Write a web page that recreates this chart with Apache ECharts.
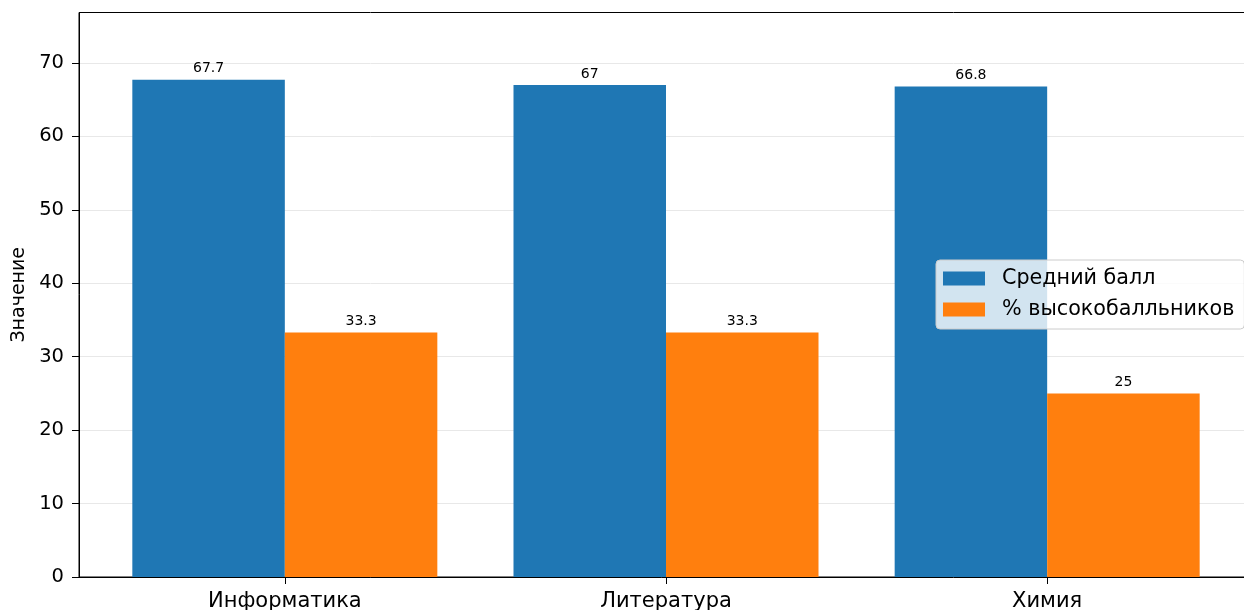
<!DOCTYPE html>
<html>
<head>
<meta charset="utf-8">
<script src="https://cdn.jsdelivr.net/npm/echarts@6/dist/echarts.min.js"></script>
<style>
html,body{margin:0;padding:0;background:#fff;}
#chart{width:1244px;height:610px;}
</style>
</head>
<body>
<div id="chart"></div>
<script>
var categories = ['Информатика', 'Литература', 'Химия'];
var seriesNames = ['Средний балл', '% высокобалльников'];
var avgScore = [67.7, 67, 66.8];
var highScorers = [33.3, 33.3, 25];
var yTicks = [0, 10, 20, 30, 40, 50, 60, 70];

var positions = categories.map(function (c, i) { return i; });
function toPoints(vals) { return vals.map(function (v, i) { return [positions[i], v]; }); }

var FONT = 'DejaVu Sans';
var chart = echarts.init(document.getElementById('chart'));
chart.setOption({
  animation: false,
  textStyle: { fontFamily: FONT },
  grid: {
    left: 79, top: 12.5, width: 1174, bottom: 33,
    show: true, borderColor: '#000', borderWidth: 1, backgroundColor: 'transparent',
    containLabel: false,
    outerBoundsMode: 'none'
  },
  legend: {
    orient: 'vertical',
    left: 936, top: 260,
    padding: [8, 10, 9, 7],
    itemGap: 10,
    itemWidth: 42, itemHeight: 14,
    icon: 'rect',
    backgroundColor: 'rgba(255,255,255,0.8)',
    borderColor: '#cccccc', borderWidth: 1, borderRadius: 4,
    textStyle: { fontFamily: FONT, fontSize: 20.7, color: '#000', padding: [0, 0, 0, 12] },
    data: seriesNames
  },
  xAxis: {
    type: 'value',
    min: -0.54, max: 2.54,
    axisLine: { show: true, onZero: false, lineStyle: { color: '#000', width: 1 } },
    axisTick: { show: true, length: 7, customValues: positions, lineStyle: { color: '#000' } },
    axisLabel: {
      customValues: positions,
      margin: 14, fontSize: 21, color: '#000', fontFamily: FONT,
      formatter: function (v) { return categories[Math.round(v)] || ''; }
    },
    splitLine: { show: false }
  },
  yAxis: {
    type: 'value',
    min: 0, max: 76.87,
    name: 'Значение',
    nameLocation: 'middle',
    nameRotate: 90,
    nameGap: 48,
    nameTextStyle: { fontSize: 19, color: '#000', fontFamily: FONT },
    axisLine: { show: true, onZero: false, lineStyle: { color: '#000', width: 1 } },
    axisTick: { show: true, length: 7, customValues: yTicks, lineStyle: { color: '#000' } },
    axisLabel: { customValues: yTicks, margin: 15, fontSize: 19.5, color: '#000', fontFamily: FONT, padding: [3, 0, 0, 0] },
    splitLine: { show: true, lineStyle: { color: '#e8e8e8', width: 1 } }
  },
  series: [
    {
      name: seriesNames[0], type: 'bar', data: toPoints(avgScore),
      barWidth: 152.5, barGap: '0%',
      itemStyle: { color: '#1f77b4' },
      label: { show: true, position: 'top', distance: 4, fontSize: 14, color: '#000', fontFamily: FONT,
        formatter: function (p) { return String(p.value[1]); } }
    },
    {
      name: seriesNames[1], type: 'bar', data: toPoints(highScorers),
      barWidth: 152.5, barGap: '0%',
      itemStyle: { color: '#ff7f0e' },
      label: { show: true, position: 'top', distance: 4, fontSize: 14, color: '#000', fontFamily: FONT,
        formatter: function (p) { return String(p.value[1]); } }
    }
  ]
});
</script>
</body>
</html>
